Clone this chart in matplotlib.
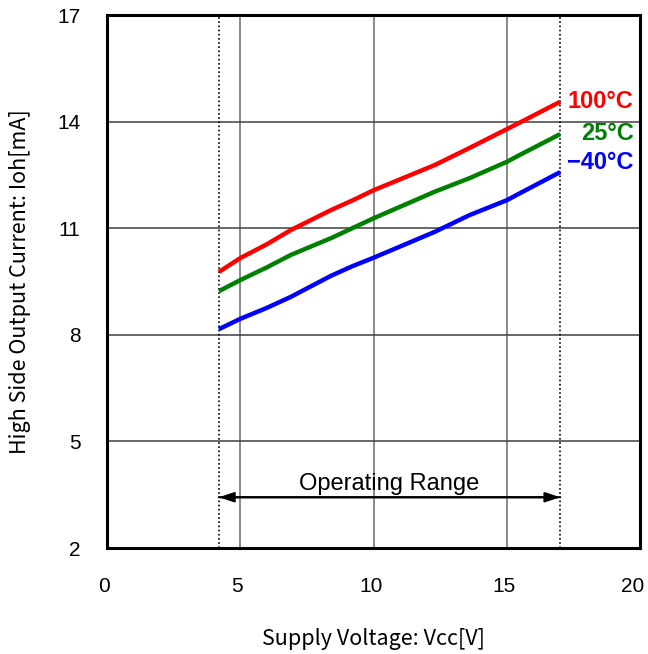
import matplotlib
matplotlib.use("Agg")
import matplotlib.pyplot as plt
from matplotlib.transforms import ScaledTranslation

vcc = [4.2, 5, 6.0, 6.9, 8.4, 9.2, 10, 12.3, 13.6, 15, 15.5, 17]
i_100 = [9.77, 10.16, 10.55, 10.95, 11.51, 11.78, 12.07, 12.78, 13.26, 13.79, 13.98, 14.56]
i_25 = [9.23, 9.54, 9.90, 10.25, 10.72, 11.00, 11.28, 12.03, 12.41, 12.87, 13.07, 13.65]
i_m40 = [8.16, 8.45, 8.76, 9.07, 9.66, 9.93, 10.17, 10.90, 11.37, 11.79, 11.99, 12.58]
series_labels = ["100°C", "25°C", "\u221240°C"]
series_colors = ["#ff0000", "#008000", "#0000ff"]
x_ticks = [0, 5, 10, 15, 20]
y_ticks = [2, 5, 8, 11, 14, 17]
op_range = [4.2, 17]

fig = plt.figure(figsize=(6.48, 6.54), dpi=100)
ax = fig.add_axes([0.165, 0.162, 0.823, 0.815])
ax.set_xlim(0, 20)
ax.set_ylim(2, 17)

for x in [5, 10, 15]:
    ax.axvline(x, color="#808080", lw=1.3, zorder=1)
for y in [5, 8, 11, 14]:
    ax.axhline(y, color="#404040", lw=1.1, zorder=1)
for x in op_range:
    ax.axvline(x, color="black", lw=1.2, ls=(0, (1, 1.5)), zorder=2)

for ys, c in zip([i_100, i_25, i_m40], series_colors):
    ax.plot(vcc, ys, color=c, lw=3.2, zorder=3, solid_capstyle="butt")

label_y = [14.58, 13.68, 12.84]
for lab, c, ly in zip(series_labels, series_colors, label_y):
    ax.text(19.75, ly, lab, color=c, fontsize=17, fontweight="bold",
            family="Liberation Sans", ha="right", va="center")

ax.annotate("", xy=(op_range[0], 3.43), xytext=(op_range[1], 3.43),
            arrowprops=dict(arrowstyle="-|>,head_length=0.9,head_width=0.3", color="black", lw=1.5,
                            shrinkA=0, shrinkB=0))
ax.annotate("", xy=(op_range[1], 3.43), xytext=(op_range[0], 3.43),
            arrowprops=dict(arrowstyle="-|>,head_length=0.9,head_width=0.3", color="black", lw=1.5,
                            shrinkA=0, shrinkB=0))
ax.text(sum(op_range) / 2, 3.48, "Operating Range", ha="center", va="bottom",
        fontsize=17, family="Liberation Sans")

ax.set_xticks(x_ticks)
ax.set_yticks(y_ticks)
ax.set_xticklabels([str(v) for v in x_ticks], family="Liberation Sans", fontsize=15)
ax.set_yticklabels([str(v) for v in y_ticks], family="Liberation Sans", fontsize=15)
ax.tick_params(length=0)
ax.tick_params(axis="x", pad=21)
ax.tick_params(axis="y", pad=19)
for i, lbl in enumerate(ax.get_xticklabels()):
    dx = -3 if i < len(x_ticks) - 1 else -8
    lbl.set_transform(lbl.get_transform() + ScaledTranslation(dx / 100, 0, fig.dpi_scale_trans))

for s in ax.spines.values():
    s.set_linewidth(2.2)
    s.set_color("black")

ax.set_xlabel("Supply Voltage: Vcc[V]", fontsize=15.5, family="Noto Sans CJK JP", labelpad=23)
ax.set_ylabel("High Side Output Current: Ioh[mA]", fontsize=15.5, family="Noto Sans CJK JP", labelpad=19)

fig.savefig("out.png", dpi=100)
